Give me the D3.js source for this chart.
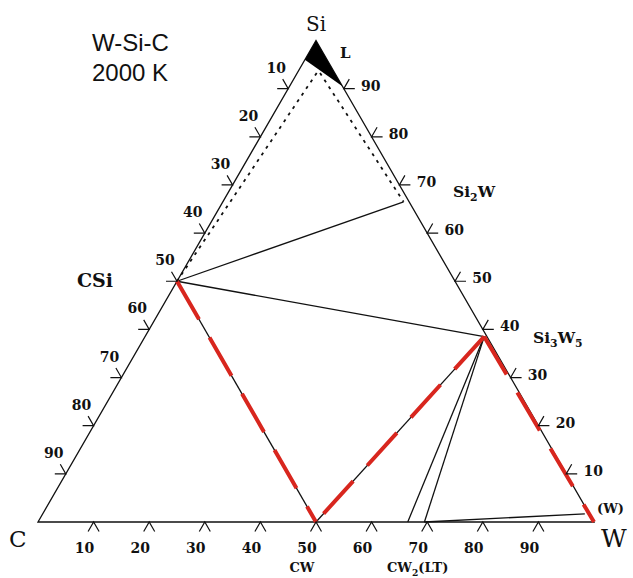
<!DOCTYPE html>
<html>
<head>
<meta charset="utf-8">
<script src="https://cdn.jsdelivr.net/npm/d3@7/dist/d3.min.js"></script>
<style>
  body { margin: 0; background: #fff; }
  text { font-family: "DejaVu Serif", serif; fill: #111; }
</style>
</head>
<body>
<div id="chart"></div>
<script>
// Composition values: si = Si fraction, w = W fraction (C = rest)
var tickValues = [10, 20, 30, 40, 50, 60, 70, 80, 90];

var phaseIds = ["Si", "C", "W", "CSi", "Si2W", "Si3W5", "CW", "CW2lo", "CW2hi", "Wss", "La", "Lb"];
var phaseSi  = [1,    0,   0,   0.5,   0.665,  0.385,   0,    0,       0,       0.017, 0.9325, 0.9325];
var phaseW   = [0,    0,   1,   0,     0.325,  0.61,    0.5,  0.665,   0.695,   0.975, 0.035,  0.041];

// liquid (L) region corners near Si
var liquidSi = [1, 0.96, 0.905];
var liquidW  = [0, 0,    0.095];

var tieLines    = [["CSi", "Si2W"], ["CSi", "Si3W5"], ["CSi", "CW"], ["Si3W5", "CW"],
                   ["Si3W5", "CW2lo"], ["Si3W5", "CW2hi"], ["CW2hi", "Wss"]];
var redLines    = [["CSi", "CW"], ["Si3W5", "CW"], ["Si3W5", "W"]];
var dottedLines = [["La", "CSi"], ["Lb", "Si2W"]];

var width = 633, height = 578;

var svg = d3.select("#chart")
    .append("svg")
    .attr("width", width)
    .attr("height", height);

// ternary -> screen: x runs along the C-W base, y is the Si height
var x = d3.scaleLinear().domain([0, 1]).range([38, 594]);
var y = d3.scaleLinear().domain([0, 1]).range([522, 40.5]);

function pt(si, w) { return [x(w + si / 2), y(si)]; }

var phase = {};
phaseIds.forEach(function (id, i) { phase[id] = pt(phaseSi[i], phaseW[i]); });

// triangle outline
svg.append("path")
    .attr("d", d3.line()([phase.C, phase.Si, phase.W]) + "Z")
    .attr("fill", "none")
    .attr("stroke", "#111")
    .attr("stroke-width", 1.3);

// liquid region
svg.append("path")
    .attr("d", d3.line()(liquidSi.map(function (s, i) { return pt(s, liquidW[i]); })) + "Z")
    .attr("fill", "#000");

function drawLines(cls, data) {
    return svg.selectAll("line." + cls)
        .data(data)
        .enter().append("line")
        .attr("class", cls)
        .attr("x1", function (d) { return phase[d[0]][0]; })
        .attr("y1", function (d) { return phase[d[0]][1]; })
        .attr("x2", function (d) { return phase[d[1]][0]; })
        .attr("y2", function (d) { return phase[d[1]][1]; });
}

// black tie lines
drawLines("tie", tieLines)
    .attr("stroke", "#111")
    .attr("stroke-width", 1.3);

// dotted lines to the liquid
drawLines("dot", dottedLines)
    .attr("stroke", "#111")
    .attr("stroke-width", 1.8)
    .attr("stroke-dasharray", "3,5");

// red dashed overlay
drawLines("red", redLines)
    .attr("stroke", "#d8261e")
    .attr("stroke-width", 4)
    .attr("stroke-dasharray", "44,21");

// chevron ticks on the three sides
var armLen = 11;
var sides = [
    // bottom: W %, normal points down
    {pos: function (v) { return pt(0, v / 100); }, normal: 90, dx: -9, dy: 31},
    // left: C %, normal points up-left
    {pos: function (v) { return pt(1 - v / 100, 0); }, normal: 210, dx: -12, dy: -16},
    // right: Si %, normal points up-right
    {pos: function (v) { return pt(v / 100, 1 - v / 100); }, normal: 330, dx: 27, dy: 2}
];

sides.forEach(function (s) {
    var g = svg.append("g");
    g.selectAll("path")
        .data(tickValues)
        .enter().append("path")
        .attr("d", function (v) {
            var p = s.pos(v);
            var a1 = (s.normal - 30) * Math.PI / 180, a2 = (s.normal + 30) * Math.PI / 180;
            return "M" + (p[0] + armLen * Math.cos(a1)) + "," + (p[1] + armLen * Math.sin(a1)) +
                "L" + p[0] + "," + p[1] +
                "L" + (p[0] + armLen * Math.cos(a2)) + "," + (p[1] + armLen * Math.sin(a2));
        })
        .attr("fill", "none")
        .attr("stroke", "#111")
        .attr("stroke-width", 1.2);
    g.selectAll("text")
        .data(tickValues)
        .enter().append("text")
        .attr("x", function (v) { return s.pos(v)[0] + s.dx; })
        .attr("y", function (v) { return s.pos(v)[1] + s.dy; })
        .attr("text-anchor", "middle")
        .style("font-size", "14px")
        .style("font-weight", "bold")
        .text(function (v) { return v; });
});

// phase and corner labels
function label(tx, ty, size, anchor, bold) {
    return svg.append("text")
        .attr("x", tx).attr("y", ty)
        .attr("text-anchor", anchor || "start")
        .style("font-weight", bold ? "bold" : "normal")
        .style("font-size", size + "px");
}
// parts: plain text and subscripts alternating, subscripts flagged with a leading "_"
function formula(t, parts) {
    var shifted = false;
    parts.forEach(function (p) {
        var isSub = p.charAt(0) === "_";
        var span = t.append("tspan").text(isSub ? p.slice(1) : p);
        if (isSub) {
            span.attr("dy", 4).style("font-size", "0.7em");
            shifted = true;
        } else if (shifted) {
            span.attr("dy", -4);
            shifted = false;
        }
    });
}

label(316, 31, 20, "middle").text("Si");
label(340, 58, 15, "start", true).text("L");
label(77, 287, 19, "start", true).text("CSi");
label(9, 547, 23).text("C");
label(601, 547, 25).text("W");
label(597, 513, 13, "start", true).text("(W)");
label(302, 572, 13, "middle", true).text("CW");

formula(label(387, 572, 13, "start", true), ["CW", "_2", "(LT)"]);
formula(label(453, 197, 15.5, "start", true), ["Si", "_2", "W"]);
formula(label(533, 343, 15.5, "start", true), ["Si", "_3", "W", "_5"]);

// title
svg.append("text")
    .attr("x", 92).attr("y", 51)
    .style("font-family", "'Liberation Sans', Arial, sans-serif")
    .style("font-size", "24px")
    .text("W-Si-C");
svg.append("text")
    .attr("x", 92).attr("y", 81)
    .style("font-family", "'Liberation Sans', Arial, sans-serif")
    .style("font-size", "24px")
    .text("2000 K");
</script>
</body>
</html>
